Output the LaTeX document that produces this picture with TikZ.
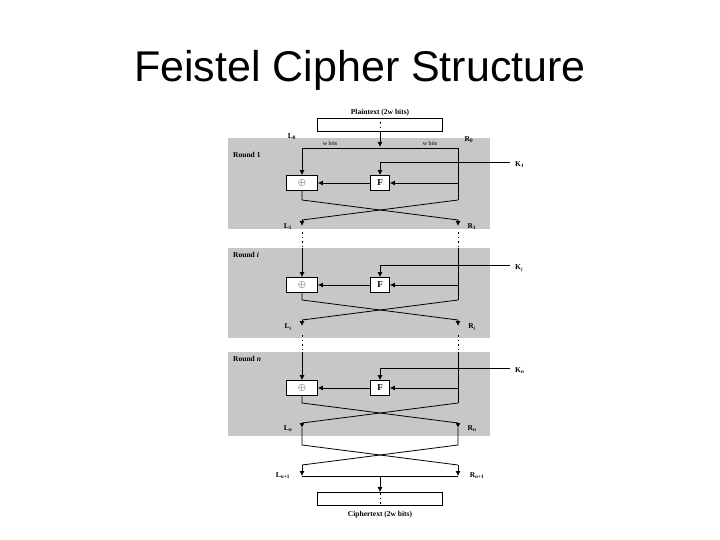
\documentclass[tikz,border=0pt]{standalone}
\usepackage{fontspec}
\setmainfont{Liberation Serif}
\newfontfamily\titlefont{Liberation Sans}
\usetikzlibrary{arrows.meta}
\begin{document}
\begin{tikzpicture}[x=1pt,y=-1pt,
  ln/.style={draw=black,line width=0.8pt},
  arr/.style={ln,-{Latex[length=5pt,width=5pt]}},
  box/.style={draw=black,line width=0.8pt,fill=white,inner sep=0pt},
  lab/.style={font=\bfseries\fontsize{7.5}{9}\selectfont,inner sep=1pt},
  gray/.style={fill=black!22,draw=none},
  dotl/.style={draw=black,line width=1pt,dash pattern=on 1.5pt off 3pt}]
\useasboundingbox (0,0) rectangle (720,540);
\node[font=\titlefont\fontsize{43}{50}\selectfont] (title) at (360,70) {Feistel Cipher Structure};
% gray rounds
\fill[gray] (228,138) rectangle (490,229);
\fill[gray] (228,248) rectangle (490,338);
\fill[gray] (228,352) rectangle (490,436);
% plaintext
\node[lab] (pt) at (380,113) {Plaintext (2w bits)};
\node[box,minimum width=125pt,minimum height=13pt] (pbox) at (380,125) {};
\draw[dotl] (380,118) -- (380,132);
\coordinate (pin) at (380,132);
\coordinate (ptop) at (380,147);
\draw[arr] (pin) -- (ptop);
\node[lab] at (292,137) {L\textsubscript{0}};
\node[lab] at (469,140) {R\textsubscript{0}};
\node[lab,font=\fontsize{6}{7}\selectfont] at (330,143) {w bits};
\node[lab,font=\fontsize{6}{7}\selectfont] at (430,143) {w bits};
\draw[ln] (302,148) -- (458,148);
\newcommand{\fround}[9]{%
  \node[lab,anchor=west] at (232,#1+7) {#6};
  \node[box,minimum width=31pt,minimum height=15pt] (x#3) at (302,#3) {\(\oplus\)};
  \node[box,minimum width=19pt,minimum height=15pt,font=\bfseries\small] (f#3) at (380,#3) {F};
  \coordinate (ks#3) at (510,#2);
  \coordinate (kc#3) at (380,#2);
  \node[lab,anchor=west] at (514,#2+3) {#7};
  \draw[arr] (ks#3) -- (kc#3) -- (f#3.north);
  \draw[arr] (302,#1) -- (x#3.north);
  \draw[arr] (458,#3) -- (f#3.east);
  \draw[arr] (f#3.west) -- (x#3.east);
  \draw[ln] (458,#1) -- (458,#4);
  \draw[ln] (x#3.south) -- (302,#4) -- (458,#4+20) -- (458,#4+22);
  \draw[ln] (458,#4) -- (302,#4+20);
  \draw[arr] (302,#4+20) -- (302,#5);
  \draw[arr] (458,#4+22) -- (458,#5);
  \node[lab] at (288,#5+1) {#8};
  \node[lab] at (472,#5+1) {#9};
}
\fround{148}{162}{183}{200}{226}{Round 1}{K\textsubscript{1}}{L\textsubscript{1}}{R\textsubscript{1}}
\draw[dotl] (302,232) -- (302,248); \draw[dotl] (458,232) -- (458,248);
\fround{248}{265}{285}{300}{326}{Round \textit{i}}{K\textsubscript{\textit{i}}}{L\textsubscript{\textit{i}}}{R\textsubscript{\textit{i}}}
\draw[dotl] (302,335) -- (302,352); \draw[dotl] (458,335) -- (458,352);
\fround{352}{368}{388}{403}{428}{Round \textit{n}}{K\textsubscript{\textit{n}}}{L\textsubscript{\textit{n}}}{R\textsubscript{\textit{n}}}
% final swap
\draw[ln] (302,428) -- (302,445) -- (458,465);
\draw[ln] (458,428) -- (458,445) -- (302,465);
\draw[arr] (302,465) -- (302,476);
\draw[arr] (458,465) -- (458,476);
\node[lab] at (283,476) {L\textsubscript{\textit{n}+1}};
\node[lab] at (477,476) {R\textsubscript{\textit{n}+1}};
\draw[ln] (302,476) -- (458,476);
\node[box,minimum width=125pt,minimum height=13pt] (cbox) at (380,499) {};
\coordinate (cin) at (380,476);
\draw[arr] (cin) -- (cbox.north);
\draw[dotl] (380,493) -- (380,505);
\node[lab] (ct) at (380,515) {Ciphertext (2w bits)};
\end{tikzpicture}
\end{document}
